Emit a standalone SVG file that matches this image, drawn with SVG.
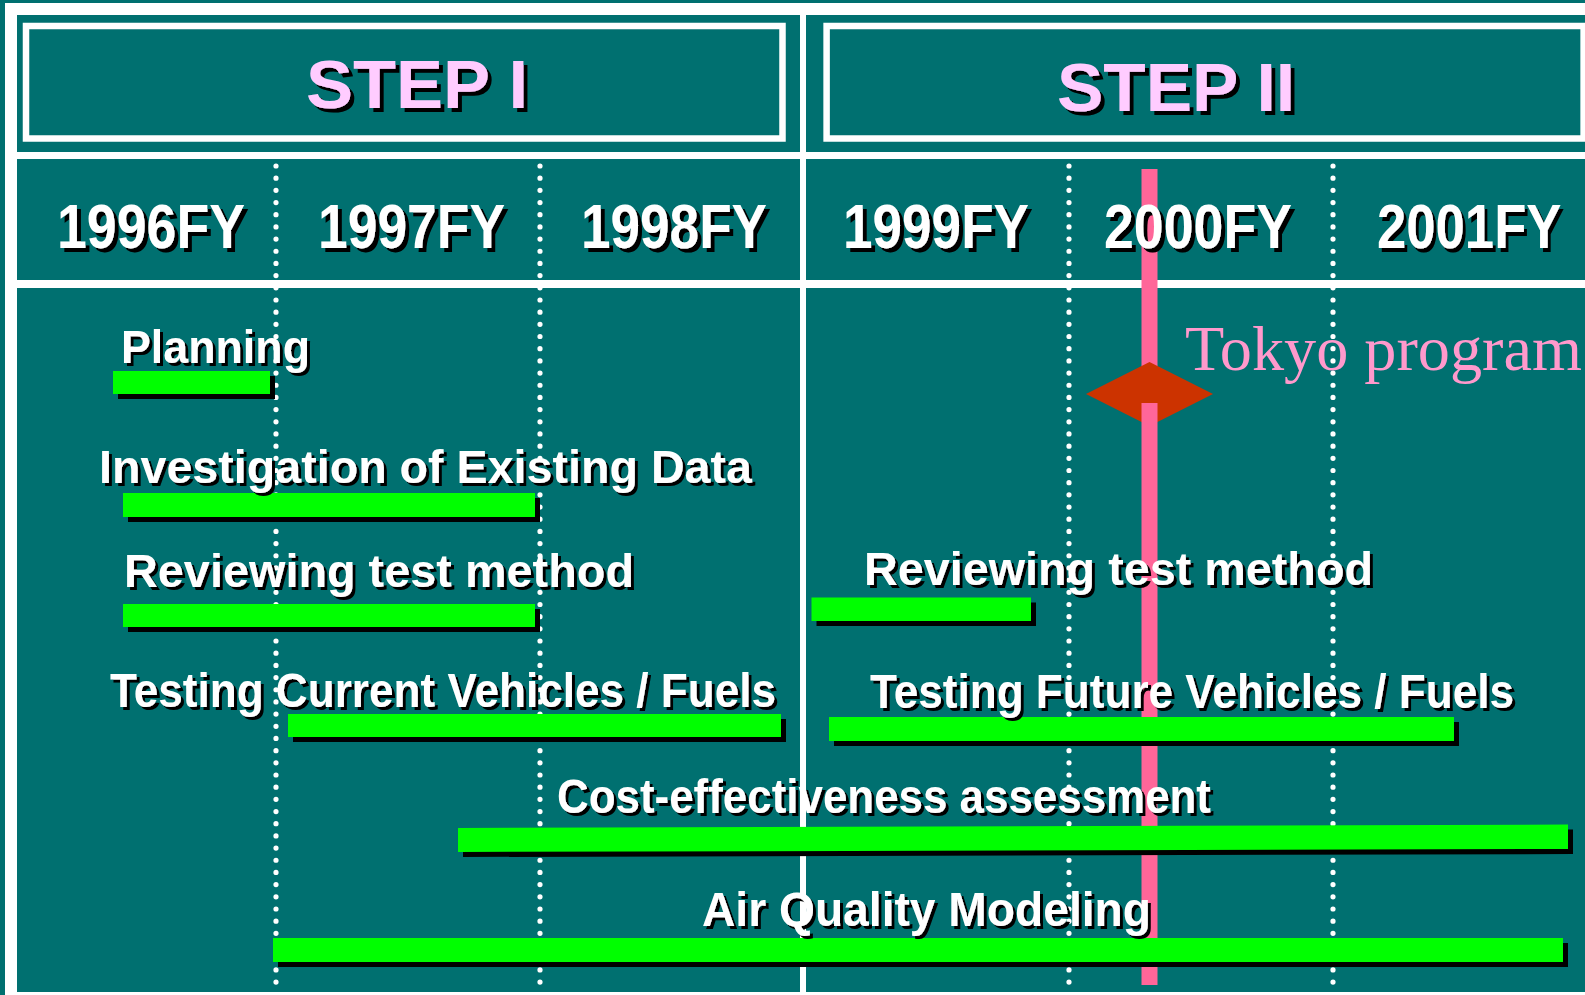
<svg xmlns="http://www.w3.org/2000/svg" width="1585" height="995" viewBox="0 0 1585 995">
<defs>
<style>
.bg{fill:#007070}
.w{fill:#ffffff}
.box{fill:none;stroke:#ffffff;stroke-width:6.5}
.dot{fill:none;stroke:#ffffff;stroke-width:5.2;stroke-linecap:round;stroke-dasharray:0 12.18}
.pink{fill:#FF6699}
.arrow{fill:#CC3300}
.bar{fill:#00FF00}
.sh{fill:#000000}
.step{font-family:"Liberation Sans Narrow","Liberation Sans",Arial,sans-serif;font-weight:bold;font-size:69px;fill:#FFCCFF;filter:url(#ts4)}
.year{font-family:"Liberation Sans Narrow","Liberation Sans",Arial,sans-serif;font-weight:bold;font-size:63px;fill:#ffffff;filter:url(#ts4)}
.lw{font-family:"Liberation Sans",Arial,sans-serif;font-weight:bold;font-size:47px;fill:#ffffff;filter:url(#ts3)}
.ln{font-family:"Liberation Sans Narrow","Liberation Sans",Arial,sans-serif;font-weight:bold;font-size:48px;fill:#ffffff;filter:url(#ts3)}
.tokyo{font-family:"Liberation Serif","Times New Roman",serif;font-size:64px;fill:#FF99CC}
</style>
<filter id="ts4" x="-10%" y="-20%" width="125%" height="150%">
<feOffset in="SourceAlpha" dx="4" dy="4" result="o"/>
<feMerge><feMergeNode in="o"/><feMergeNode in="SourceGraphic"/></feMerge>
</filter>
<filter id="ts3" x="-10%" y="-20%" width="125%" height="150%">
<feOffset in="SourceAlpha" dx="3" dy="3" result="o"/>
<feMerge><feMergeNode in="o"/><feMergeNode in="SourceGraphic"/></feMerge>
</filter>
</defs>

<!-- background and frame -->
<rect class="bg" x="0" y="0" width="1585" height="995"/>
<g id="frame">
<rect class="w" x="5" y="3" width="12" height="992"/>
<rect class="w" x="5" y="3" width="1580" height="12"/>
<rect class="w" x="5" y="992" width="1580" height="5"/>
<rect class="w" x="800" y="3" width="6" height="992"/>
<rect class="w" x="5" y="152" width="1580" height="7"/>
<rect class="w" x="5" y="280" width="1580" height="8"/>
</g>

<g id="step1">
<rect class="box" x="26" y="26" width="756.5" height="112.5"/>
<text class="step" x="306" y="108" textLength="222" lengthAdjust="spacingAndGlyphs">STEP I</text>
</g>
<g id="step2">
<rect class="box" x="826.6" y="26" width="757" height="112.5"/>
<text class="step" x="1057" y="111" textLength="238" lengthAdjust="spacingAndGlyphs">STEP II</text>
</g>

<g id="gridlines">
<line class="dot" x1="276" y1="166" x2="276" y2="984"/>
<line class="dot" x1="540" y1="166" x2="540" y2="984"/>
<line class="dot" x1="1069" y1="166" x2="1069" y2="984"/>
<line class="dot" x1="1333" y1="166" x2="1333" y2="984"/>
</g>

<g id="tokyo-program">
<rect class="pink" x="1141.5" y="169" width="16" height="218"/>
<polygon class="arrow" points="1086,394 1149.5,362 1213,394 1149.5,426"/>
<rect class="pink" x="1141.5" y="403" width="16" height="582"/>
<text class="tokyo" x="1185" y="370" textLength="397" lengthAdjust="spacingAndGlyphs">Tokyo program</text>
</g>

<g id="years">
<text class="year" x="57" y="248" textLength="188" lengthAdjust="spacingAndGlyphs">1996FY</text>
<text class="year" x="318" y="248" textLength="187" lengthAdjust="spacingAndGlyphs">1997FY</text>
<text class="year" x="581" y="248" textLength="186" lengthAdjust="spacingAndGlyphs">1998FY</text>
<text class="year" x="843" y="248" textLength="186" lengthAdjust="spacingAndGlyphs">1999FY</text>
<text class="year" x="1104" y="248" textLength="188" lengthAdjust="spacingAndGlyphs">2000FY</text>
<text class="year" x="0" y="0" transform="translate(1377,248) scale(0.836,1)">2001FY</text>
</g>

<g id="task-planning">
<rect class="sh" x="118" y="376" width="157" height="23"/>
<rect class="bar" x="113" y="371" width="157" height="23"/>
<text class="lw" x="121" y="363" textLength="189" lengthAdjust="spacingAndGlyphs">Planning</text>
</g>

<g id="task-investigation">
<rect class="sh" x="128" y="498" width="412" height="24"/>
<rect class="bar" x="123" y="493" width="412" height="24"/>
<text class="lw" x="99" y="483" textLength="653" lengthAdjust="spacingAndGlyphs">Investigation of Existing Data</text>
</g>

<g id="task-reviewing-1">
<rect class="sh" x="128" y="609" width="412" height="23"/>
<rect class="bar" x="123" y="604" width="412" height="23"/>
<text class="lw" x="124" y="587" textLength="510" lengthAdjust="spacingAndGlyphs">Reviewing test method</text>
</g>

<g id="task-testing-current">
<rect class="sh" x="293" y="719" width="493" height="23"/>
<rect class="bar" x="288" y="714" width="493" height="23"/>
<text class="ln" x="110" y="707" textLength="666" lengthAdjust="spacingAndGlyphs">Testing Current Vehicles / Fuels</text>
</g>

<g id="task-reviewing-2">
<rect class="sh" x="816.5" y="602.5" width="219.5" height="23.5"/>
<rect class="bar" x="811.5" y="597.5" width="219.5" height="23.5"/>
<text class="lw" x="864" y="585" textLength="509" lengthAdjust="spacingAndGlyphs">Reviewing test method</text>
</g>

<g id="task-testing-future">
<rect class="sh" x="834" y="722" width="625" height="24"/>
<rect class="bar" x="829" y="717" width="625" height="24"/>
<text class="ln" x="870" y="708" textLength="644" lengthAdjust="spacingAndGlyphs">Testing Future Vehicles / Fuels</text>
</g>

<g id="task-cost">
<polygon class="sh" points="463,833 1573,829.5 1573,854 463,857"/>
<polygon class="bar" points="458,828 1568,824.5 1568,849 458,852"/>
<text class="ln" x="557" y="813" textLength="654" lengthAdjust="spacingAndGlyphs">Cost-effectiveness assessment</text>
</g>

<g id="task-air-quality">
<rect class="sh" x="278" y="943" width="1290" height="24"/>
<rect class="bar" x="273" y="938" width="1290" height="24"/>
<text class="ln" x="702" y="926" textLength="449" lengthAdjust="spacingAndGlyphs">Air Quality Modeling</text>
</g>
</svg>
